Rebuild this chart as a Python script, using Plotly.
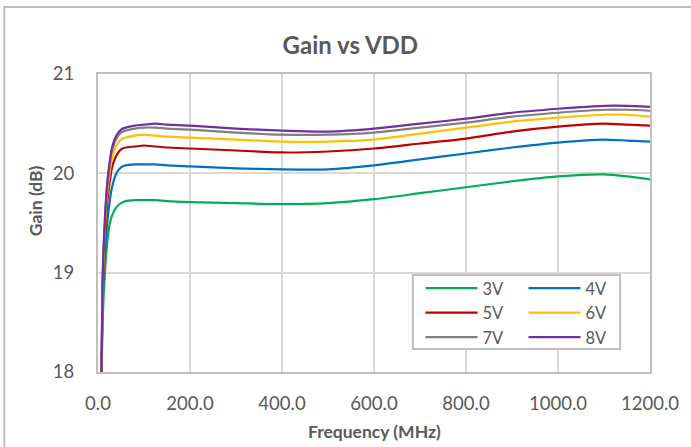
import plotly.graph_objects as go

freq = [5, 10, 15, 20, 25, 30, 40, 50, 60, 80, 100, 125, 150, 200, 300, 400,
        500, 600, 700, 800, 900, 1000, 1100, 1150, 1200]

g3V = [17.0, 18.5, 19.0, 19.3, 19.48, 19.57, 19.66, 19.70, 19.72, 19.73, 19.73, 19.73,
       19.72, 19.71, 19.70, 19.69, 19.70, 19.74, 19.80, 19.86, 19.92, 19.97, 19.99, 19.97, 19.94]
g4V = [17.0, 18.7, 19.2, 19.5, 19.7, 19.85, 20.0, 20.06, 20.08, 20.09, 20.09, 20.09,
       20.08, 20.07, 20.05, 20.04, 20.04, 20.08, 20.14, 20.20, 20.26, 20.31, 20.34, 20.33, 20.32]
g5V = [17.0, 18.8, 19.35, 19.7, 19.9, 20.05, 20.18, 20.24, 20.26, 20.27, 20.28, 20.27,
       20.26, 20.25, 20.23, 20.21, 20.22, 20.25, 20.30, 20.35, 20.42, 20.47, 20.50, 20.49, 20.48]
g6V = [17.0, 18.85, 19.45, 19.8, 20.0, 20.15, 20.28, 20.34, 20.36, 20.38, 20.39, 20.38,
       20.37, 20.36, 20.34, 20.32, 20.32, 20.34, 20.40, 20.46, 20.52, 20.56, 20.59, 20.59, 20.57]
g7V = [17.0, 18.9, 19.5, 19.87, 20.08, 20.22, 20.35, 20.41, 20.43, 20.45, 20.46, 20.46,
       20.45, 20.44, 20.41, 20.39, 20.39, 20.41, 20.46, 20.51, 20.57, 20.61, 20.64, 20.64, 20.63]
g8V = [17.0, 18.95, 19.55, 19.9, 20.1, 20.25, 20.38, 20.44, 20.46, 20.48, 20.49, 20.50,
       20.49, 20.48, 20.45, 20.43, 20.42, 20.45, 20.50, 20.55, 20.61, 20.65, 20.68, 20.68, 20.67]

series_names = ["3V", "4V", "5V", "6V", "7V", "8V"]
series_values = [g3V, g4V, g5V, g6V, g7V, g8V]
colors = ["#00B050", "#0070C0", "#C00000", "#FFC000", "#7F7F7F", "#7030A0"]
groups = ["a", "b", "a", "b", "a", "b"]

x_ticks = [0, 200, 400, 600, 800, 1000, 1200]
y_ticks = [18, 19, 20, 21]

FONT = "Lato"
TXT = "#595959"

fig = go.Figure()
for name, vals, col, grp in zip(series_names, series_values, colors, groups):
    fig.add_trace(go.Scatter(x=freq, y=vals, name=name, mode="lines",
                             line=dict(color=col, width=2.2, shape="spline", smoothing=0.6),
                             legendgroup=grp))

fig.update_layout(
    width=691, height=447,
    margin=dict(l=98, r=39, t=74, b=75),
    paper_bgcolor="white", plot_bgcolor="white",
    font=dict(family=FONT, color=TXT),
    title=dict(text="<b>Gain vs VDD</b>", xref="container", x=0.507, xanchor="center",
               yref="container", y=1 - 46 / 447, yanchor="middle",
               font=dict(family=FONT, size=24, color=TXT)),
    showlegend=True,
    legend=dict(orientation="h", traceorder="grouped", x=0.5843, xanchor="left",
                y=0.3390, yanchor="top", bgcolor="rgba(0,0,0,0)", borderwidth=0,
                itemwidth=52, entrywidth=36, entrywidthmode="pixels",
                font=dict(family=FONT, size=16.5, color=TXT), tracegroupgap=0),
)

fig.update_xaxes(range=[0, 1200], tickvals=x_ticks, tickformat=".1f",
                 showgrid=True, gridcolor="#D9D9D9", gridwidth=1.5,
                 showline=True, linecolor="#BFBFBF", linewidth=2, mirror=True,
                 ticks="", zeroline=False, ticklabelstandoff=14,
                 tickfont=dict(family=FONT, size=18.5, color=TXT))
fig.update_yaxes(range=[18, 21], tickvals=y_ticks,
                 showgrid=True, gridcolor="#D9D9D9", gridwidth=1.5,
                 showline=True, linecolor="#BFBFBF", linewidth=2, mirror=True,
                 ticks="", zeroline=False, ticklabelstandoff=18,
                 tickfont=dict(family=FONT, size=18.5, color=TXT))

# legend box
fig.add_shape(type="rect", xref="paper", yref="paper",
              x0=0.5704, x1=0.9458, y0=0.0772, y1=0.3255,
              line=dict(color="#BFBFBF", width=2), fillcolor="white", layer="above")
# outer chart frame
fig.add_shape(type="rect", xref="paper", yref="paper",
              x0=-0.1697, x1=1.3, y0=-0.4, y1=1.2248,
              line=dict(color="#BFBFBF", width=2), fillcolor="rgba(0,0,0,0)", layer="above")

fig.add_annotation(text="<b>Gain (dB)</b>", xref="paper", yref="paper",
                   x=-0.1137, y=0.5738, xanchor="center", yanchor="middle",
                   textangle=-90, showarrow=False,
                   font=dict(family=FONT, size=17.5, color=TXT))
fig.add_annotation(text="<b>Frequency (MHz)</b>", xref="paper", yref="paper",
                   x=0.5, y=-0.2013, xanchor="center", yanchor="middle",
                   showarrow=False, font=dict(family=FONT, size=17.5, color=TXT))

fig.write_html("out.html", config={"displayModeBar": False},
               post_script="document.body.style.margin='0px';"
                           "document.body.style.overflow='hidden';")
